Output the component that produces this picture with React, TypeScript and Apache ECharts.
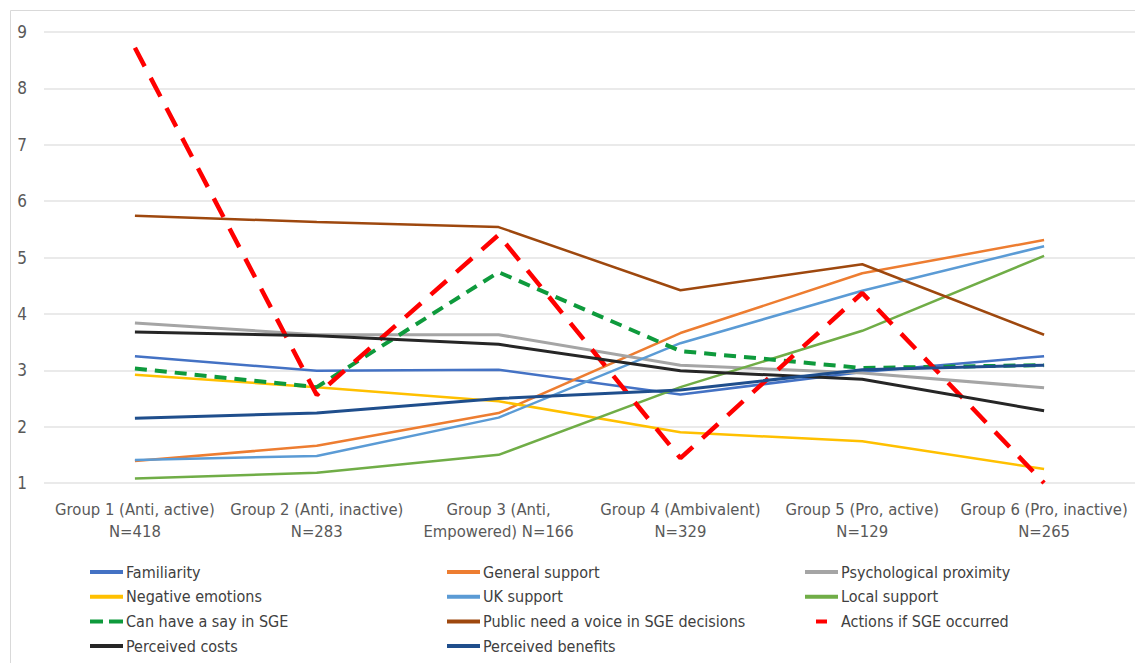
import React, { useEffect, useRef } from "react";
import * as echarts from "echarts";

const categories = [
  "Group 1 (Anti, active)\nN=418",
  "Group 2 (Anti, inactive)\nN=283",
  "Group 3 (Anti,\nEmpowered) N=166",
  "Group 4 (Ambivalent)\nN=329",
  "Group 5 (Pro, active)\nN=129",
  "Group 6 (Pro, inactive)\nN=265",
];

const yTicks = [1, 9, 1];

const familiarity = [3.25, 2.99, 3.01, 2.57, 2.97, 3.25];
const generalSupport = [1.39, 1.66, 2.24, 3.66, 4.72, 5.31];
const psychProximity = [3.84, 3.63, 3.63, 3.09, 2.95, 2.69];
const negativeEmotions = [2.92, 2.7, 2.45, 1.9, 1.74, 1.25];
const ukSupport = [1.41, 1.48, 2.16, 3.48, 4.41, 5.2];
const localSupport = [1.08, 1.18, 1.5, 2.7, 3.7, 5.03];
const canHaveSay = [3.03, 2.7, 4.74, 3.34, 3.04, 3.09];
const publicVoice = [5.74, 5.63, 5.54, 4.42, 4.88, 3.63];
const actionsIfSGE = [8.72, 2.56, 5.4, 1.44, 4.37, 1.0];
const perceivedCosts = [3.68, 3.61, 3.46, 2.99, 2.84, 2.28];
const perceivedBenefits = [2.15, 2.24, 2.5, 2.65, 3.01, 3.09];

const FONT = "'Liberation Sans Narrow', 'DejaVu Sans Condensed', 'Open Sans', sans-serif";

const SOLID = "path://M0,0h33v4h-33z";
const GREEN_DASH = "path://M0,0h13v4h-13z M19,0h14v4h-14z";
const RED_DASH = "path://M0,2h0.01v0.01h-0.01z M11,0h11v4h-11z M33,2h0.01v0.01h-0.01z";

export default function App() {
  const ref = useRef<HTMLDivElement>(null);
  useEffect(() => {
    if (!ref.current) return;
    const chart = echarts.init(ref.current, undefined, { renderer: "svg" });
    const mk = (name: string, data: number[], color: string, width = 2.5, type: any = "solid") => ({
      name,
      type: "line",
      data,
      symbol: "none",
      color,
      lineStyle: { color, width, type },
      z: 2,
    });
    const series = [
      mk("Familiarity", familiarity, "#4472C4"),
      mk("General support", generalSupport, "#ED7D31"),
      mk("Psychological proximity", psychProximity, "#A5A5A5", 3),
      mk("Negative emotions", negativeEmotions, "#FFC000"),
      mk("UK support", ukSupport, "#5B9BD5"),
      mk("Local support", localSupport, "#70AD47"),
      mk("Can have a say in SGE", canHaveSay, "#0E9A3C", 4, [12, 8]),
      mk("Public need a voice in SGE decisions", publicVoice, "#9E480E"),
      mk("Actions if SGE occurred", actionsIfSGE, "#FF0000", 4.5, [21, 13]),
      mk("Perceived costs", perceivedCosts, "#262626", 3),
      mk("Perceived benefits", perceivedBenefits, "#1F4E8C", 3),
    ];
    const it = (name: string, icon = SOLID) => ({ name, icon });
    const legendBase = {
      orient: "vertical" as const,
      top: 559,
      itemWidth: 33,
      itemHeight: 4,
      itemGap: 8.7,
      textStyle: { fontFamily: FONT, fontSize: 16, color: "#404040", padding: [0, 0, 0, -2] },
    };
    chart.setOption({
      animation: false,
      backgroundColor: "#fff",
      textStyle: { fontFamily: FONT },
      grid: { left: 44, right: -1, top: 32, bottom: 180, containLabel: false },
      xAxis: {
        type: "category",
        data: categories,
        boundaryGap: true,
        axisLine: { show: false },
        axisTick: { show: false },
        axisLabel: {
          interval: 0,
          margin: 15,
          fontFamily: FONT,
          fontSize: 16.5,
          color: "#595959",
          lineHeight: 22,
        },
      },
      yAxis: {
        type: "value",
        min: yTicks[0],
        max: yTicks[1],
        interval: yTicks[2],
        axisLine: { show: false },
        axisTick: { show: false },
        axisLabel: { margin: 17, fontFamily: FONT, fontSize: 17, color: "#595959" },
        splitLine: { lineStyle: { color: "#E3E3E3", width: 1.5 } },
      },
      legend: [
        {
          ...legendBase,
          left: 85,
          data: [
            it("Familiarity"),
            it("Negative emotions"),
            it("Can have a say in SGE", GREEN_DASH),
            it("Perceived costs"),
          ],
        },
        {
          ...legendBase,
          left: 442,
          data: [
            it("General support"),
            it("UK support"),
            it("Public need a voice in SGE decisions"),
            it("Perceived benefits"),
          ],
        },
        {
          ...legendBase,
          left: 800,
          data: [
            it("Psychological proximity"),
            it("Local support"),
            it("Actions if SGE occurred", RED_DASH),
          ],
        },
      ],
      graphic: [
        {
          type: "rect",
          shape: { x: 10.5, y: 10.5, width: 1140, height: 670 },
          style: { fill: "none", stroke: "#D9D9D9", lineWidth: 1 },
          silent: true,
          z: -1,
        },
      ],
      series,
    });
    return () => chart.dispose();
  }, []);
  return (
    <div
      ref={ref}
      style={{ position: "fixed", left: 0, top: 0, width: 1135, height: 663, background: "#fff" }}
    />
  );
}
